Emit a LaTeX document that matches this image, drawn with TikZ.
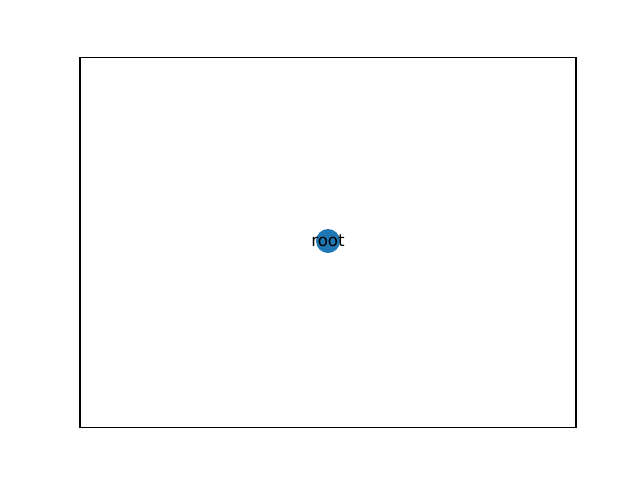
\documentclass[tikz,border=0pt]{standalone}
\usepackage{fontspec}
\setmainfont{DejaVu Sans}
\usetikzlibrary{positioning}
\definecolor{tabblue}{HTML}{1f77b4}
\tikzset{
  every node/.style={font=\fontsize{12}{14}\selectfont},
  treenode/.style={circle, fill=tabblue, inner sep=0pt, minimum size=17.28pt},
  frame/.style={draw=black, line width=0.8pt},
}
\begin{document}
\begin{tikzpicture}[x=0.72pt, y=-0.72pt]
  \useasboundingbox (0,0) rectangle (640,480);
  % axes frame
  \draw[frame] (80,57.6) rectangle (576,427.2);
  \node[treenode] (root) at (328,241) {};
  \node[inner sep=0pt] (rootlabel) at (root.center) {root};
\end{tikzpicture}
\end{document}
